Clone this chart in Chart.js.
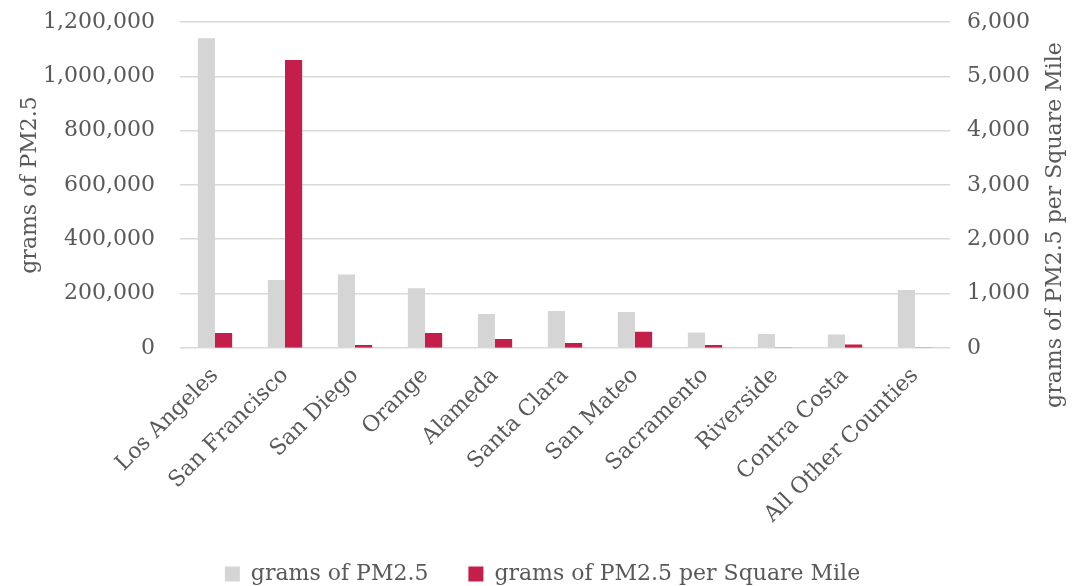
<!DOCTYPE html>
<html>
<head>
<meta charset="utf-8">
<script src="https://cdn.jsdelivr.net/npm/chart.js@4"></script>
<style>
  html, body { margin: 0; padding: 0; background: #fff; }
  #wrap { width: 1074px; height: 586px; }
</style>
</head>
<body>
<div id="wrap"><canvas id="pmChart"></canvas></div>
<script>
  // Counties and values
  const counties = ['Los Angeles', 'San Francisco', 'San Diego', 'Orange', 'Alameda',
    'Santa Clara', 'San Mateo', 'Sacramento', 'Riverside', 'Contra Costa', 'All Other Counties'];
  const gramsPM25 = [1140000, 250000, 270000, 220000, 125000, 136000, 132000, 57000, 51000, 49000, 213000];
  const gramsPerSqMile = [275, 5300, 55, 275, 165, 90, 295, 55, 5, 60, 5];

  const textColor = '#595959';
  const serif = "'DejaVu Serif', serif";
  const rightTitle = 'grams of PM2.5 per Square Mile';

  // legend box is taller than needed; shrink it and pull the items up a bit
  const legendTrim = {
    id: 'legendTrim',
    afterInit(chart) {
      const lg = chart.legend;
      if (!lg) return;
      const fit = lg.fit;
      lg.fit = function () {
        fit.call(this);
        this.height -= 29;
      };
    },
    afterLayout(chart) {
      if (chart.legend) {
        chart.legend.top -= 20;
        chart.legend.height += 20;
      }
    }
  };

  // right axis title sits lower than the plot centre in the original, so draw it by hand
  const rightAxisTitle = {
    id: 'rightAxisTitle',
    afterDraw(chart) {
      const c = chart.ctx;
      const s = chart.scales.y1;
      c.save();
      c.translate(s.right - 13, 225);
      c.rotate(-Math.PI / 2);
      c.font = '22px ' + serif;
      c.fillStyle = textColor;
      c.textAlign = 'center';
      c.textBaseline = 'middle';
      c.fillText(rightTitle, 0, 0);
      c.restore();
    }
  };

  const ctx = document.getElementById('pmChart').getContext('2d');
  new Chart(ctx, {
    type: 'bar',
    data: {
      labels: counties,
      datasets: [
        {
          label: 'grams of PM2.5',
          data: gramsPM25,
          backgroundColor: '#d5d5d5',
          yAxisID: 'y',
          categoryPercentage: 0.49,
          barPercentage: 1.0
        },
        {
          label: 'grams of PM2.5 per Square Mile',
          data: gramsPerSqMile,
          backgroundColor: '#c41e4b',
          yAxisID: 'y1',
          categoryPercentage: 0.49,
          barPercentage: 1.0
        }
      ]
    },
    plugins: [legendTrim, rightAxisTitle],
    options: {
      responsive: true,
      maintainAspectRatio: false,
      animation: false,
      layout: { padding: { top: 0, left: 17, right: 6, bottom: 0 } },
      plugins: {
        tooltip: { enabled: false },
        legend: {
          position: 'bottom',
          labels: {
            color: textColor,
            font: { family: serif, size: 22 },
            boxWidth: 15,
            boxHeight: 15,
            padding: 40
          }
        }
      },
      scales: {
        x: {
          grid: { display: false, drawTicks: false },
          border: { display: false },
          ticks: {
            color: textColor,
            font: { family: serif, size: 22 },
            padding: 15,
            minRotation: 45,
            maxRotation: 45,
            autoSkip: false
          }
        },
        y: {
          position: 'left',
          min: 0,
          max: 1200000,
          grid: { color: '#d9d9d9', lineWidth: 1.5, drawTicks: false },
          border: { display: false },
          afterFit(s) { s.width = 163; s.paddingTop = 22; },
          ticks: {
            stepSize: 200000,
            color: textColor,
            font: { family: serif, size: 22 },
            padding: 25,
            callback: v => v.toLocaleString('en-US')
          },
          title: {
            display: true,
            text: 'grams of PM2.5',
            color: textColor,
            font: { family: serif, size: 22 },
            padding: { top: 0, bottom: 0 }
          }
        },
        y1: {
          position: 'right',
          min: 0,
          max: 6000,
          grid: { display: false, drawTicks: false },
          border: { display: false },
          afterFit(s) { s.width = 118; s.paddingTop = 22; },
          ticks: {
            stepSize: 1000,
            color: textColor,
            font: { family: serif, size: 22 },
            padding: 17,
            callback: v => v.toLocaleString('en-US')
          }
        }
      }
    }
  });
</script>
</body>
</html>
